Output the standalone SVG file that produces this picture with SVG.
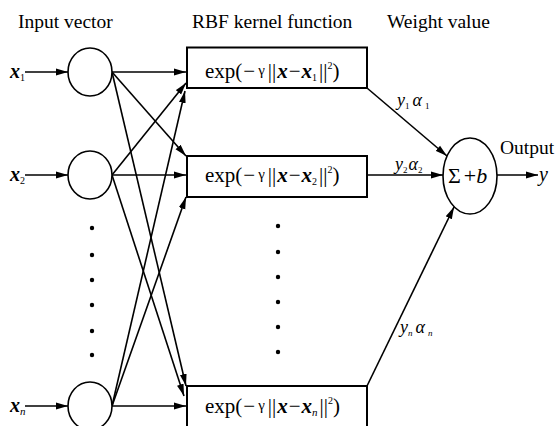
<svg xmlns="http://www.w3.org/2000/svg" width="558" height="426" viewBox="0 0 558 426">
<defs>
<marker id="ah" markerUnits="userSpaceOnUse" markerWidth="12" markerHeight="8" refX="12" refY="4" orient="auto">
<path d="M0,0.6 L12,4 L0,7.4 z" fill="#000"/>
</marker>
</defs>
<style>
text{font-family:"Liberation Serif","Times New Roman",serif;fill:#000}
.t{font-size:19.5px}
.box{fill:#fff;stroke:#000;stroke-width:2}
.neu{fill:#fff;stroke:#000;stroke-width:1.6}
.e{stroke:#000;stroke-width:1.6;fill:none}
.a{marker-end:url(#ah)}
.bi{font-weight:bold;font-style:italic}
.it{font-style:italic}
.dot{fill:#000}
.k{font-size:21px}
.g{font-size:15px}
.s{font-size:10px}
</style>
<rect width="558" height="426" fill="#fff"/>
<g id="titles">
<text class="t" x="18" y="28">Input vector</text>
<text class="t" x="192" y="28">RBF kernel function</text>
<text class="t" x="387" y="28">Weight value</text>
<text class="t" x="500" y="154">Output</text>
</g>
<g id="connectors">
<line class="e a" x1="25" y1="72" x2="68" y2="72"/>
<line class="e a" x1="25" y1="175" x2="68" y2="175"/>
<line class="e a" x1="25" y1="406" x2="68" y2="406"/>
<line class="e a" x1="112" y1="72" x2="186" y2="72"/>
<line class="e a" x1="112" y1="72" x2="186" y2="156"/>
<line class="e a" x1="112" y1="72" x2="186" y2="386"/>
<line class="e a" x1="112" y1="175" x2="186" y2="83"/>
<line class="e a" x1="112" y1="175" x2="186" y2="175"/>
<line class="e a" x1="112" y1="175" x2="184" y2="396"/>
<line class="e a" x1="112" y1="406" x2="185" y2="91"/>
<line class="e a" x1="112" y1="406" x2="186" y2="197"/>
<line class="e a" x1="112" y1="406" x2="186" y2="406"/>
<line class="e a" x1="367" y1="88" x2="447" y2="156"/>
<line class="e a" x1="367" y1="175" x2="443" y2="175"/>
<line class="e a" x1="367" y1="386" x2="454" y2="207"/>
<line class="e a" x1="497" y1="175" x2="538" y2="175"/>
</g>
<g id="input-labels">
<text x="10" y="78" font-size="20"><tspan class="bi">x</tspan><tspan class="s" dy="3">1</tspan></text>
<text x="10" y="181" font-size="20"><tspan class="bi">x</tspan><tspan class="s" dy="3">2</tspan></text>
<text x="10" y="412" font-size="20"><tspan class="bi">x</tspan><tspan font-size="11" class="it" dy="3">n</tspan></text>
</g>
<g id="input-1"><ellipse class="neu" cx="90" cy="72" rx="22" ry="24"/></g>
<g id="input-2"><ellipse class="neu" cx="90" cy="175" rx="22" ry="24"/></g>
<g id="input-n"><ellipse class="neu" cx="90" cy="406" rx="22" ry="24"/></g>
<g id="input-dots">
<circle class="dot" cx="92" cy="228" r="2.2"/>
<circle class="dot" cx="92" cy="255" r="2.2"/>
<circle class="dot" cx="92" cy="280" r="2.2"/>
<circle class="dot" cx="92" cy="305" r="2.2"/>
<circle class="dot" cx="92" cy="331" r="2.2"/>
<circle class="dot" cx="92" cy="355" r="2.2"/>
</g>
<g id="kernel-1">
<rect class="box" x="187" y="47.5" width="180" height="40.5"/>
<text class="k" x="205" y="78">exp(<tspan dx="1">−</tspan><tspan class="g" dx="3" dy="-3">γ</tspan><tspan dx="3" dy="3">||</tspan><tspan class="bi" dx="1">x</tspan><tspan dx="1">−</tspan><tspan class="bi" dx="1">x</tspan><tspan class="s" dy="3">1</tspan><tspan dx="2" dy="-3">||</tspan><tspan class="s" dy="-9">2</tspan><tspan dy="9">)</tspan></text>
</g>
<g id="kernel-2">
<rect class="box" x="187" y="156" width="180" height="41"/>
<text class="k" x="205" y="182">exp(<tspan dx="1">−</tspan><tspan class="g" dx="3" dy="-3">γ</tspan><tspan dx="3" dy="3">||</tspan><tspan class="bi" dx="1">x</tspan><tspan dx="1">−</tspan><tspan class="bi" dx="1">x</tspan><tspan class="s" dy="3">2</tspan><tspan dx="2" dy="-3">||</tspan><tspan class="s" dy="-9">2</tspan><tspan dy="9">)</tspan></text>
</g>
<g id="kernel-n">
<rect class="box" x="187" y="386" width="180" height="41"/>
<text class="k" x="205" y="413">exp(<tspan dx="1">−</tspan><tspan class="g" dx="3" dy="-3">γ</tspan><tspan dx="3" dy="3">||</tspan><tspan class="bi" dx="1">x</tspan><tspan dx="1">−</tspan><tspan class="bi" dx="1">x</tspan><tspan font-size="11" class="it" dy="3">n</tspan><tspan dx="2" dy="-3">||</tspan><tspan class="s" dy="-9">2</tspan><tspan dy="9">)</tspan></text>
</g>
<g id="kernel-dots">
<circle class="dot" cx="278" cy="226" r="2.2"/>
<circle class="dot" cx="278" cy="252" r="2.2"/>
<circle class="dot" cx="278" cy="277" r="2.2"/>
<circle class="dot" cx="278" cy="302" r="2.2"/>
<circle class="dot" cx="278" cy="327" r="2.2"/>
<circle class="dot" cx="278" cy="352" r="2.2"/>
</g>
<g id="weight-labels">
<text x="397" y="106" font-size="18" class="it">y<tspan font-size="9" font-style="normal" dy="3">1</tspan><tspan dx="3" dy="-3">α</tspan><tspan font-size="9" font-style="normal" dx="3" dy="3">1</tspan></text>
<text x="395" y="170" font-size="18" class="it">y<tspan font-size="9" font-style="normal" dy="3">2</tspan><tspan dx="1" dy="-3">α</tspan><tspan font-size="9" font-style="normal" dy="3">2</tspan></text>
<text x="400" y="333" font-size="18" class="it">y<tspan font-size="9" dy="3">n</tspan><tspan dx="3" dy="-3">α</tspan><tspan font-size="9" dx="3" dy="3">n</tspan></text>
</g>
<g id="sum">
<ellipse class="neu" cx="470" cy="176" rx="27" ry="38"/>
<text x="448" y="183" font-size="22">Σ<tspan dx="3">+</tspan><tspan class="it">b</tspan></text>
</g>
<g id="output-label">
<text x="539" y="181" font-size="20" class="it">y</text>
</g>
</svg>
